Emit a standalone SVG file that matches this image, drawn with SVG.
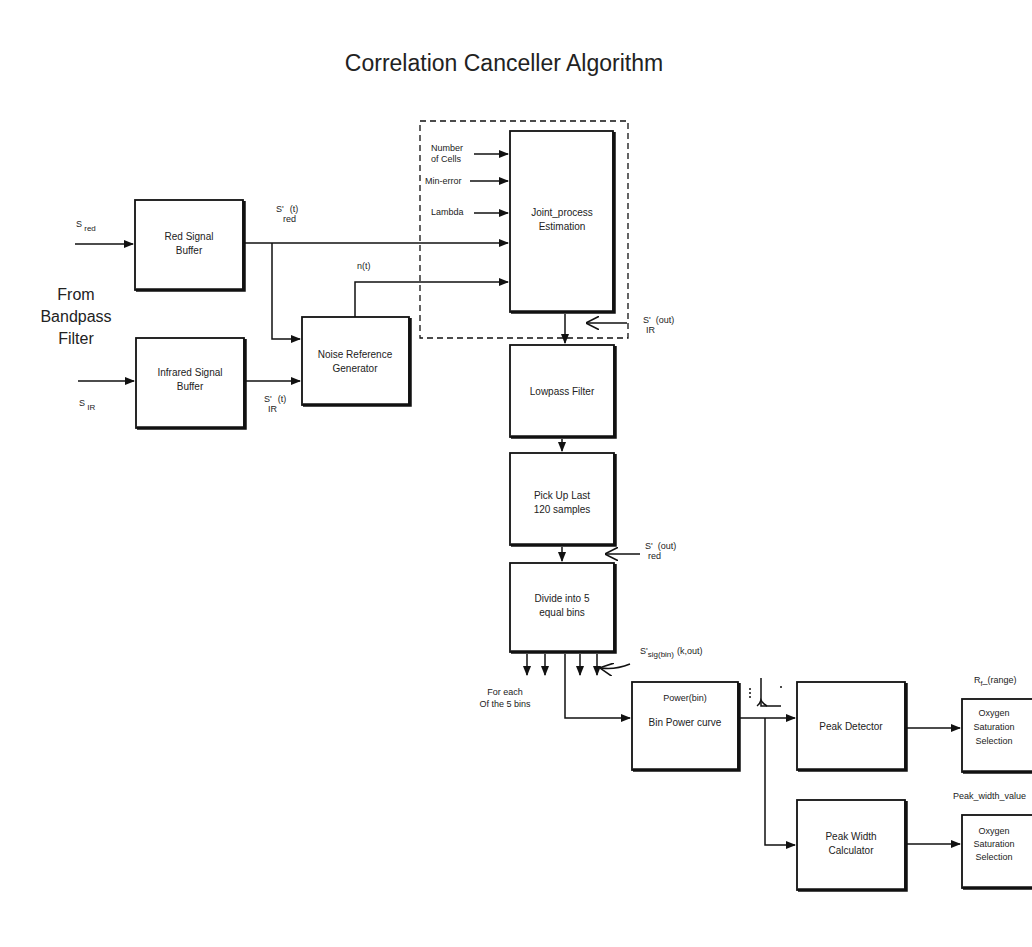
<svg xmlns="http://www.w3.org/2000/svg" width="1032" height="947" viewBox="0 0 1032 947">
<defs>
  <marker id="arr" viewBox="0 0 10 10" refX="9" refY="5" markerWidth="7" markerHeight="7" orient="auto">
    <path d="M0,1 L10,5 L0,9 z" fill="#111"/>
  </marker>
  <marker id="open" viewBox="0 0 10 10" refX="9" refY="5" markerWidth="9" markerHeight="9" orient="auto">
    <path d="M0,0 L10,5 L0,10" fill="none" stroke="#111" stroke-width="1.2"/>
  </marker>
</defs>
<style>
  .box { fill: #fff; stroke: #111; stroke-width: 1.8; }
  .shadow { fill: none; stroke: #111; stroke-width: 3.5; }
  .lbl { font-family: "Liberation Sans", Arial, sans-serif; font-size: 10px; fill: #222; text-anchor: middle; }
  .sm { font-family: "Liberation Sans", Arial, sans-serif; font-size: 9px; fill: #222; }
  .big { font-family: "Liberation Sans", Arial, sans-serif; font-size: 16px; fill: #222; text-anchor: middle; }
  .title { font-family: "Liberation Sans", Arial, sans-serif; font-size: 23px; fill: #222; text-anchor: middle; }
  .wire { fill: none; stroke: #111; stroke-width: 1.5; }
  .dash { fill: none; stroke: #111; stroke-width: 1.3; stroke-dasharray: 6 4; }
</style>
<rect width="1032" height="947" fill="#fff"/>

<text class="title" x="504" y="71">Correlation Canceller Algorithm</text>

<text class="big" x="76" y="300">From</text>
<text class="big" x="76" y="322">Bandpass</text>
<text class="big" x="76" y="344">Filter</text>

<!-- dashed enclosure around the joint-process stage -->
<rect class="dash" x="420" y="121" width="208" height="217"/>

<g id="red-buffer">
  <rect class="box" x="135" y="200" width="108" height="90"/>
  <path class="shadow" d="M136,290 H244 V201"/>
  <text class="lbl" x="189" y="240">Red Signal</text>
  <text class="lbl" x="189" y="254">Buffer</text>
</g>

<g id="ir-buffer">
  <rect class="box" x="136" y="338" width="108" height="90"/>
  <path class="shadow" d="M137,428 H245 V339"/>
  <text class="lbl" x="190" y="376">Infrared Signal</text>
  <text class="lbl" x="190" y="390">Buffer</text>
</g>

<g id="noise-ref">
  <rect class="box" x="302" y="317" width="107" height="88"/>
  <path class="shadow" d="M303,405 H410 V318"/>
  <text class="lbl" x="355" y="358">Noise Reference</text>
  <text class="lbl" x="355" y="372">Generator</text>
</g>

<g id="joint-process">
  <rect class="box" x="510" y="131" width="103" height="181"/>
  <path class="shadow" d="M511,312 H614 V132"/>
  <text class="lbl" x="562" y="216">Joint_process</text>
  <text class="lbl" x="562" y="230">Estimation</text>
</g>

<g id="lowpass">
  <rect class="box" x="510" y="345" width="104" height="92"/>
  <path class="shadow" d="M511,437 H615 V346"/>
  <text class="lbl" x="562" y="395">Lowpass Filter</text>
</g>

<g id="pickup">
  <rect class="box" x="510" y="453" width="104" height="92"/>
  <path class="shadow" d="M511,545 H615 V454"/>
  <text class="lbl" x="562" y="499">Pick Up Last</text>
  <text class="lbl" x="562" y="513">120 samples</text>
</g>

<g id="divide">
  <rect class="box" x="510" y="563" width="104" height="89"/>
  <path class="shadow" d="M511,652 H615 V564"/>
  <text class="lbl" x="562" y="602">Divide into 5</text>
  <text class="lbl" x="562" y="616">equal bins</text>
</g>

<g id="bin-power">
  <rect class="box" x="632" y="682" width="106" height="88"/>
  <path class="shadow" d="M633,770 H739 V683"/>
  <text class="sm" x="685" y="701" text-anchor="middle">Power(bin)</text>
  <text class="lbl" x="685" y="726">Bin Power curve</text>
</g>

<g id="peak-detector">
  <rect class="box" x="797" y="682" width="108" height="88"/>
  <path class="shadow" d="M798,770 H906 V683"/>
  <text class="lbl" x="851" y="730">Peak Detector</text>
</g>

<g id="peak-width">
  <rect class="box" x="797" y="800" width="108" height="90"/>
  <path class="shadow" d="M798,890 H906 V801"/>
  <text class="lbl" x="851" y="840">Peak Width</text>
  <text class="lbl" x="851" y="854">Calculator</text>
</g>

<g id="oxygen-1">
  <rect class="box" x="962" y="699" width="80" height="73"/>
  <path class="shadow" d="M963,772 H1040"/>
  <text class="sm" x="994" y="716" text-anchor="middle">Oxygen</text>
  <text class="sm" x="994" y="730" text-anchor="middle">Saturation</text>
  <text class="sm" x="994" y="744" text-anchor="middle">Selection</text>
</g>

<g id="oxygen-2">
  <rect class="box" x="962" y="815" width="80" height="73"/>
  <path class="shadow" d="M963,888 H1040"/>
  <text class="sm" x="994" y="834" text-anchor="middle">Oxygen</text>
  <text class="sm" x="994" y="847" text-anchor="middle">Saturation</text>
  <text class="sm" x="994" y="860" text-anchor="middle">Selection</text>
</g>

<!-- signal labels -->
<g id="labels">
  <text class="sm" x="76" y="227">S<tspan dy="4" font-size="8"> red</tspan></text>
  <text class="sm" x="79" y="406">S<tspan dy="4" font-size="8"> IR</tspan></text>
  <text class="sm" x="276" y="212">S'<tspan dx="6">(t)</tspan></text>
  <text class="sm" x="283" y="222" font-size="8">red</text>
  <text class="sm" x="264" y="402">S'<tspan dx="6">(t)</tspan></text>
  <text class="sm" x="268" y="412" font-size="8">IR</text>
  <text class="sm" x="357" y="269">n(t)</text>
  <text class="sm" x="431" y="151">Number</text>
  <text class="sm" x="431" y="162">of Cells</text>
  <text class="sm" x="425" y="184">Min-error</text>
  <text class="sm" x="431" y="215">Lambda</text>
  <text class="sm" x="643" y="323">S'<tspan dx="5">(out)</tspan></text>
  <text class="sm" x="646" y="333" font-size="8">IR</text>
  <text class="sm" x="645" y="549">S'<tspan dx="5">(out)</tspan></text>
  <text class="sm" x="648" y="559" font-size="8">red</text>
  <text class="sm" x="640" y="654">S'<tspan font-size="8" dy="3">sig(bin)</tspan><tspan dy="-3" dx="3">(k,out)</tspan></text>
  <text class="sm" x="505" y="695" text-anchor="middle">For each</text>
  <text class="sm" x="505" y="707" text-anchor="middle">Of the 5 bins</text>
  <text class="sm" x="974" y="683">R<tspan font-size="7" dy="3">f</tspan><tspan dy="-3">_(range)</tspan></text>
  <text class="sm" x="953" y="799">Peak_width_value</text>
</g>

<g id="connectors">
  <!-- inputs -->
  <path class="wire" d="M75,244 H133" marker-end="url(#arr)"/>
  <path class="wire" d="M78,381 H134" marker-end="url(#arr)"/>
  <!-- red buffer out to joint process and noise ref -->
  <path class="wire" d="M243,243 H508" marker-end="url(#arr)"/>
  <path class="wire" d="M272,243 V339 H300" marker-end="url(#arr)"/>
  <path class="wire" d="M244,381 H300" marker-end="url(#arr)"/>
  <!-- noise reference to joint process -->
  <path class="wire" d="M355,317 V282 H508" marker-end="url(#arr)"/>
  <!-- parameter inputs -->
  <path class="wire" d="M474,154 H508" marker-end="url(#arr)"/>
  <path class="wire" d="M470,181 H508" marker-end="url(#arr)"/>
  <path class="wire" d="M474,213 H508" marker-end="url(#arr)"/>
  <!-- vertical chain -->
  <path class="wire" d="M565,314 V343" marker-end="url(#arr)"/>
  <path class="wire" d="M627,323 H587" marker-end="url(#open)"/>
  <path class="wire" d="M562,439 V451" marker-end="url(#arr)"/>
  <path class="wire" d="M562,547 V561" marker-end="url(#arr)"/>
  <path class="wire" d="M640,554 H606" marker-end="url(#open)"/>
  <!-- bin outputs -->
  <path class="wire" d="M527,654 V675" marker-end="url(#arr)"/>
  <path class="wire" d="M545,654 V675" marker-end="url(#arr)"/>
  <path class="wire" d="M580,654 V675" marker-end="url(#arr)"/>
  <path class="wire" d="M597,654 V675" marker-end="url(#arr)"/>
  <path class="wire" d="M630,664 Q615,670 601,668" marker-end="url(#open)"/>
  <path class="wire" d="M565,654 V718 H630" marker-end="url(#arr)"/>
  <!-- power curve to peak blocks -->
  <path class="wire" d="M740,718 H795" marker-end="url(#arr)"/>
  <path class="wire" d="M765,718 V845 H795" marker-end="url(#arr)"/>
  <path class="wire" d="M907,728 H960" marker-end="url(#arr)"/>
  <path class="wire" d="M907,844 H960" marker-end="url(#arr)"/>
  <!-- small peak sketch -->
  <path class="wire" d="M761,678 V706 H781" stroke-width="1.2"/>
  <path class="wire" d="M757,706 Q760,704 761,700 Q763,704 767,706" stroke-width="1.2"/>
  <path class="wire" d="M750,688 V700 M781,686 V690" stroke-width="1" stroke-dasharray="2 2"/>
</g>
</svg>
